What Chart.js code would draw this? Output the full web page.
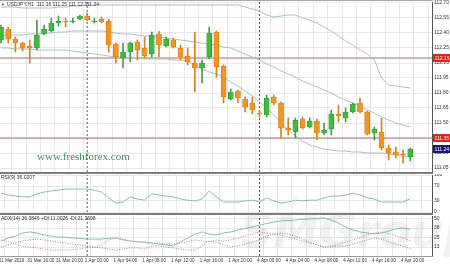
<!DOCTYPE html>
<html>
<head>
<meta charset="utf-8">
<script src="https://cdn.jsdelivr.net/npm/chart.js@4.4.1/dist/chart.umd.min.js"></script>
<style>
html, body { margin: 0; padding: 0; background: #fff; }
#wrap { position: relative; width: 450px; height: 266px; overflow: hidden; background: #fff; }
#wrap canvas { position: absolute; left: 0; }
.sep { position: absolute; left: 0; width: 433px; z-index: 3; }
.mark { position: absolute; z-index: 2; white-space: nowrap; pointer-events: none; }
</style>
</head>
<body>
<div id="wrap">
  <canvas id="mainCanvas" width="450" height="172" style="top:0"></canvas>
  <canvas id="rsiCanvas" width="450" height="40" style="top:174px"></canvas>
  <canvas id="adxCanvas" width="450" height="51" style="top:215px"></canvas>
  <div class="sep" style="top:0;height:1px;background:#a8a8a8"></div>
  <div class="sep" style="top:172px;height:2px;background:#7c7c7c"></div>
  <div class="sep" style="top:213px;height:2px;background:#7c7c7c"></div>
  <div class="sep" style="top:256px;height:1px;background:#9a9a9a"></div>
  <div class="mark" style="left:37px;top:150px;font:11px 'Liberation Serif',serif;color:#3f9455">www.freshforex.com</div>
  <div class="mark" style="left:240px;top:204px;font:italic bold 46px 'DejaVu Sans',sans-serif;color:rgba(120,120,120,0.1)">SMGroup</div>
</div>
<script>
// USDJPY H1, 31 Mar 12:00 .. 4 Apr 21:00
const opens  = [112.33,112.44,112.34,112.30,112.27,112.25,112.39,112.42,112.50,112.52,
                112.51,112.54,112.57,112.51,112.54,112.52,112.29,112.15,112.21,112.31,
                112.25,112.19,112.39,112.27,112.33,112.25,112.17,112.10,112.05,112.16,
                112.41,112.07,111.74,111.82,111.74,111.70,111.60,111.58,111.76,111.70,
                111.45,111.41,111.54,111.46,111.52,111.40,111.44,111.59,111.55,111.61,
                111.70,111.61,111.40,111.41,111.25,111.21,111.19,111.16];
const highs  = [112.48,112.46,112.36,112.31,112.33,112.53,112.48,112.55,112.57,112.55,
                112.55,112.58,112.60,112.55,112.56,112.54,112.30,112.30,112.31,112.33,
                112.36,112.41,112.42,112.36,112.35,112.28,112.25,112.41,112.13,112.46,
                112.42,112.08,111.84,111.83,111.76,111.76,111.63,111.78,111.78,111.71,
                111.55,111.55,111.56,111.55,111.54,111.50,111.63,111.68,111.65,111.70,
                111.75,111.62,111.46,111.55,111.28,111.26,111.23,111.25];
const lows   = [112.30,112.30,112.21,112.22,112.10,112.23,112.38,112.41,112.47,112.46,
                112.50,112.53,112.52,112.50,112.50,112.21,112.10,112.05,112.11,112.13,
                112.15,112.16,112.16,112.26,112.25,112.13,112.08,111.81,111.90,112.14,
                111.96,111.70,111.73,111.70,111.61,111.59,111.56,111.56,111.68,111.35,
                111.38,111.35,111.44,111.45,111.33,111.38,111.38,111.51,111.51,111.60,
                111.60,111.38,111.33,111.23,111.13,111.15,111.10,111.12];
const closes = [112.46,112.34,112.30,112.25,112.25,112.38,112.44,112.50,112.52,112.51,
                112.52,112.57,112.53,112.52,112.51,112.28,112.16,112.21,112.30,112.23,
                112.17,112.38,112.28,112.34,112.26,112.16,112.11,112.05,112.10,112.40,
                112.06,111.76,111.81,111.75,111.66,111.63,111.59,111.75,111.70,111.45,
                111.43,111.53,111.45,111.52,111.40,111.43,111.59,111.57,111.61,111.69,
                111.61,111.39,111.44,111.25,111.20,111.18,111.18,111.24];

const bbUpper  = [112.66,112.66,112.66,112.65,112.65,112.65,112.65,112.65,112.66,112.66,
                  112.67,112.67,112.68,112.68,112.68,112.68,112.68,112.68,112.68,112.68,
                  112.68,112.68,112.68,112.68,112.68,112.68,112.68,112.68,112.68,112.68,
                  112.68,112.68,112.68,112.68,112.66,112.64,112.62,112.58,112.56,112.57,
                  112.58,112.58,112.55,112.53,112.50,112.46,112.42,112.37,112.32,112.28,
                  112.23,112.19,112.13,111.95,111.88,111.87,111.86,111.85];
const bbMiddle = [112.37,112.38,112.38,112.38,112.39,112.39,112.40,112.40,112.41,112.41,
                  112.42,112.42,112.42,112.42,112.42,112.41,112.40,112.39,112.39,112.38,
                  112.37,112.37,112.36,112.35,112.34,112.33,112.32,112.31,112.30,112.29,
                  112.28,112.26,112.25,112.22,112.19,112.16,112.13,112.09,112.06,112.02,
                  111.99,111.96,111.92,111.89,111.86,111.83,111.80,111.76,111.73,111.70,
                  111.67,111.63,111.60,111.56,111.53,111.50,111.48,111.46];
const bbLower  = [112.25,112.25,112.24,112.24,112.24,112.23,112.23,112.23,112.23,112.23,
                  112.22,112.21,112.20,112.19,112.18,112.17,112.16,112.16,112.15,112.15,
                  112.14,112.14,112.14,112.14,112.13,112.13,112.12,112.08,112.04,112.01,
                  111.99,111.96,111.91,111.87,111.82,111.77,111.71,111.65,111.58,111.50,
                  111.43,111.37,111.32,111.28,111.26,111.24,111.23,111.22,111.22,111.21,
                  111.21,111.20,111.20,111.20,111.19,111.18,111.17,111.16];

const rsiValues = [51,46,43,41,41,49,54,57,59,62,62,62,62,59,54,38,24,27,41,35,
                   32,49,46,43,41,35,32,30,35,57,41,27,27,27,30,32,27,38,30,24,
                   27,32,30,32,32,38,43,43,46,51,46,38,35,27,27,27,27,36];

const adxMain  = [21,25,27.5,31.5,33,31.5,29,27.5,26,26,25,24.5,23.5,23.5,23.5,24.5,25,22.5,21,20,
                  19.5,18.5,17,16,14.5,20,25,30,33,30,29,31.5,33,35.5,37.5,39.5,42,44,46,47.5,
                  48,48.5,49.5,50,50.5,51.5,48.5,44.5,39.5,35.5,33,31.5,30.5,31.5,34,37,38,36.4];
const diPlus   = [13,16,18.5,21,22.5,23.5,22.5,21,19.5,18.5,17,16,14.5,13,12,10.5,9,10.5,12,12,
                  10.5,14.5,14.5,13,12,10.5,9,9,14.5,21,19.5,16,13,14.5,17,19.5,22.5,27.5,30,31.5,
                  30,27.5,23.5,19.5,16,13,13,14.5,14.5,17,19.5,22.5,25,23.5,20,17,14,11];
const diMinus  = [22.5,20,17,14.5,13,12,10.5,9,9,9,10,10.5,12,12.5,16,22.5,25,23.5,21,20,
                  19.5,17,18.5,17,17,18.5,20,22.5,21,20,22.5,21,22.5,25,27.5,30,33,31.5,30,29,
                  26.5,24,21,18.5,16,13,14.5,17,19.5,22.5,25,29,31.5,33,31,28,25,21.4];

const timeLabels = ['31 Mar 2016','31 Mar 16:00','31 Mar 20:00','1 Apr 00:00','1 Apr 04:00',
                    '1 Apr 08:00','1 Apr 12:00','1 Apr 16:00','1 Apr 20:00','4 Apr 00:00',
                    '4 Apr 04:00','4 Apr 08:00','4 Apr 12:00','4 Apr 16:00','4 Apr 20:00'];
const priceTicks = [112.70,112.55,112.40,112.25,112.10,111.95,111.80,111.65,111.50,111.35,111.20,111.05];
const rsiTicks = [0,30,70,100];
const adxTicks = [13,25,38,50];
const levelPrices = [112.15, 111.35];
const lastPrice = 111.24;
const daySeparators = [12, 36];

const FONT = "'Liberation Sans', Arial, sans-serif";
Chart.defaults.font.family = FONT;
Chart.defaults.color = '#333';

const xMin = -0.14, xMax = 60.03;
const gridColor = '#e8e8e8';
const gridTicks = [];
for (let v = 0.5; v < xMax; v += 2) gridTicks.push(v);

const idx = opens.map((_, i) => i);
const isUp = idx.map(i => closes[i] >= opens[i]);

const textPlugin = {
  id: 'panelText',
  afterDraw(chart, args, opts) {
    const ctx = chart.ctx;
    (opts.items || []).forEach(t => {
      ctx.save();
      ctx.font = t.font || ('5px ' + FONT);
      ctx.fillStyle = t.color || '#333';
      ctx.textBaseline = 'top';
      ctx.fillText(t.text, t.x, t.y);
      ctx.restore();
    });
  }
};

const tagPlugin = {
  id: 'priceTags',
  afterDraw(chart, args, opts) {
    if (!opts.tags) return;
    const ctx = chart.ctx, ys = chart.scales.y, left = chart.chartArea.right;
    opts.tags.forEach(t => {
      const py = Math.round(ys.getPixelForValue(t.value));
      ctx.save();
      ctx.fillStyle = t.bg;
      ctx.fillRect(left + 1, py - 4, 17, 8);
      ctx.fillStyle = '#fff';
      ctx.font = '5px ' + FONT;
      ctx.textBaseline = 'middle';
      ctx.fillText(t.value.toFixed(2), left + 2.5, py + 0.5);
      ctx.restore();
    });
  }
};

function xScale(showLabels) {
  return {
    type: 'linear', min: xMin, max: xMax, offset: false,
    grid: { color: gridColor, drawTicks: false },
    border: { display: false },
    ticks: showLabels ? {
      display: true, autoSkip: false, maxRotation: 0, minRotation: 0,
      align: 'start', labelOffset: -6, padding: 2,
      font: { size: 4.6 }, color: '#333',
      callback: v => {
        const k = Math.round((v - 0.5) / 2);
        return k % 2 === 0 ? (timeLabels[k / 2] || '') : '';
      }
    } : { display: false },
    afterBuildTicks: s => { s.ticks = gridTicks.map(v => ({ value: v })); },
    afterFit: s => {
      s.paddingLeft = 0; s.paddingRight = 0;
      s.height = showLabels ? 10 : 0;
    }
  };
}

function yScale(min, max, ticks, fmt) {
  return {
    position: 'right', min: min, max: max,
    grid: { color: gridColor, drawTicks: false },
    border: { color: '#555', width: 1 },
    ticks: { font: { size: 5 }, color: '#333', padding: 2, autoSkip: false, callback: fmt },
    afterBuildTicks: s => { s.ticks = ticks.map(v => ({ value: v })); },
    afterFit: s => { s.width = 18; s.paddingTop = 0; s.paddingBottom = 0; }
  };
}

function lineSet(values, color, dash, order) {
  return {
    type: 'line', data: idx.map(i => ({ x: i, y: values[i] })),
    borderColor: color, borderWidth: 1, borderDash: dash || [],
    pointRadius: 0, tension: 0, order: order || 2
  };
}

function separatorSets(min, max) {
  return daySeparators.map(d => ({
    type: 'line', data: [{ x: d, y: min }, { x: d, y: max }],
    borderColor: '#555', borderWidth: 1, borderDash: [2, 2],
    pointRadius: 0, order: 5
  }));
}

const baseOptions = {
  responsive: false, animation: false, devicePixelRatio: 1,
  events: []
};

// main price panel
const pMin = 111.01, pMax = 112.71;
new Chart(document.getElementById('mainCanvas'), {
  type: 'bar',
  data: {
    datasets: [
      {
        type: 'bar', data: idx.map(i => ({ x: i, y: [opens[i], closes[i]] })),
        backgroundColor: idx.map(i => isUp[i] ? '#3dbd3d' : '#f7941d'),
        borderColor: idx.map(i => isUp[i] ? '#2a8a2a' : '#c96f10'),
        borderWidth: 0.6, borderSkipped: false, barThickness: 5, grouped: false, order: 0
      },
      {
        type: 'bar', data: idx.map(i => ({ x: i, y: [lows[i], highs[i]] })),
        backgroundColor: idx.map(i => isUp[i] ? '#4b9a4b' : '#d98024'),
        borderWidth: 0, barThickness: 1, grouped: false, order: 1
      },
      lineSet(bbUpper, '#a9c3b5'),
      lineSet(bbMiddle, '#a9c3b5'),
      lineSet(bbLower, '#a9c3b5'),
      ...levelPrices.map(v => ({
        type: 'line', data: [{ x: xMin, y: v }, { x: xMax, y: v }],
        borderColor: '#b06a66', borderWidth: 1, pointRadius: 0, order: 3
      })),
      ...separatorSets(pMin, pMax)
    ]
  },
  options: {
    ...baseOptions,
    layout: { padding: { top: 2, left: 0, right: 0, bottom: 0 } },
    plugins: {
      legend: { display: false }, tooltip: { enabled: false },
      panelText: { items: [
        { text: '\u25BC', x: 1, y: 3, font: '4px ' + FONT, color: '#444' },
        { text: 'USDJPY,H1  111.16 111.25 111.12 111.24', x: 7, y: 2.5 }
      ] },
      priceTags: { tags: [
        { value: levelPrices[0], bg: '#e2231a' },
        { value: levelPrices[1], bg: '#e2231a' },
        { value: lastPrice, bg: '#151575' }
      ] }
    },
    scales: {
      x: xScale(false),
      y: yScale(pMin, pMax, priceTicks, v => v.toFixed(2))
    }
  },
  plugins: [textPlugin, tagPlugin]
});

// RSI panel
new Chart(document.getElementById('rsiCanvas'), {
  type: 'line',
  data: {
    datasets: [
      lineSet(rsiValues, '#86bfae', [], 1),
      ...separatorSets(0, 100)
    ]
  },
  options: {
    ...baseOptions,
    layout: { padding: { top: 1, left: 0, right: 0, bottom: 2 } },
    plugins: {
      legend: { display: false }, tooltip: { enabled: false },
      panelText: { items: [{ text: 'RSI(9) 36.0207', x: 1, y: 1 }] }
    },
    scales: {
      x: xScale(false),
      y: yScale(0, 100, rsiTicks, v => String(v))
    }
  },
  plugins: [textPlugin]
});

// ADX panel
const aMin = 1.3, aMax = 53.9;
new Chart(document.getElementById('adxCanvas'), {
  type: 'line',
  data: {
    datasets: [
      lineSet(adxMain, '#86bfae', [], 1),
      lineSet(diPlus, '#8e8e8e', [1, 1.5], 2),
      lineSet(diMinus, '#c98473', [1, 1.5], 2),
      ...separatorSets(aMin, aMax)
    ]
  },
  options: {
    ...baseOptions,
    layout: { padding: { top: 1, left: 0, right: 0, bottom: 0 } },
    plugins: {
      legend: { display: false }, tooltip: { enabled: false },
      panelText: { items: [{ text: 'ADX(14) 36.3846 +DI:11.0026 -DI:21.3698', x: 1, y: 1.5 }] }
    },
    scales: {
      x: xScale(true),
      y: yScale(aMin, aMax, adxTicks, v => String(v))
    }
  },
  plugins: [textPlugin]
});
</script>
</body>
</html>
